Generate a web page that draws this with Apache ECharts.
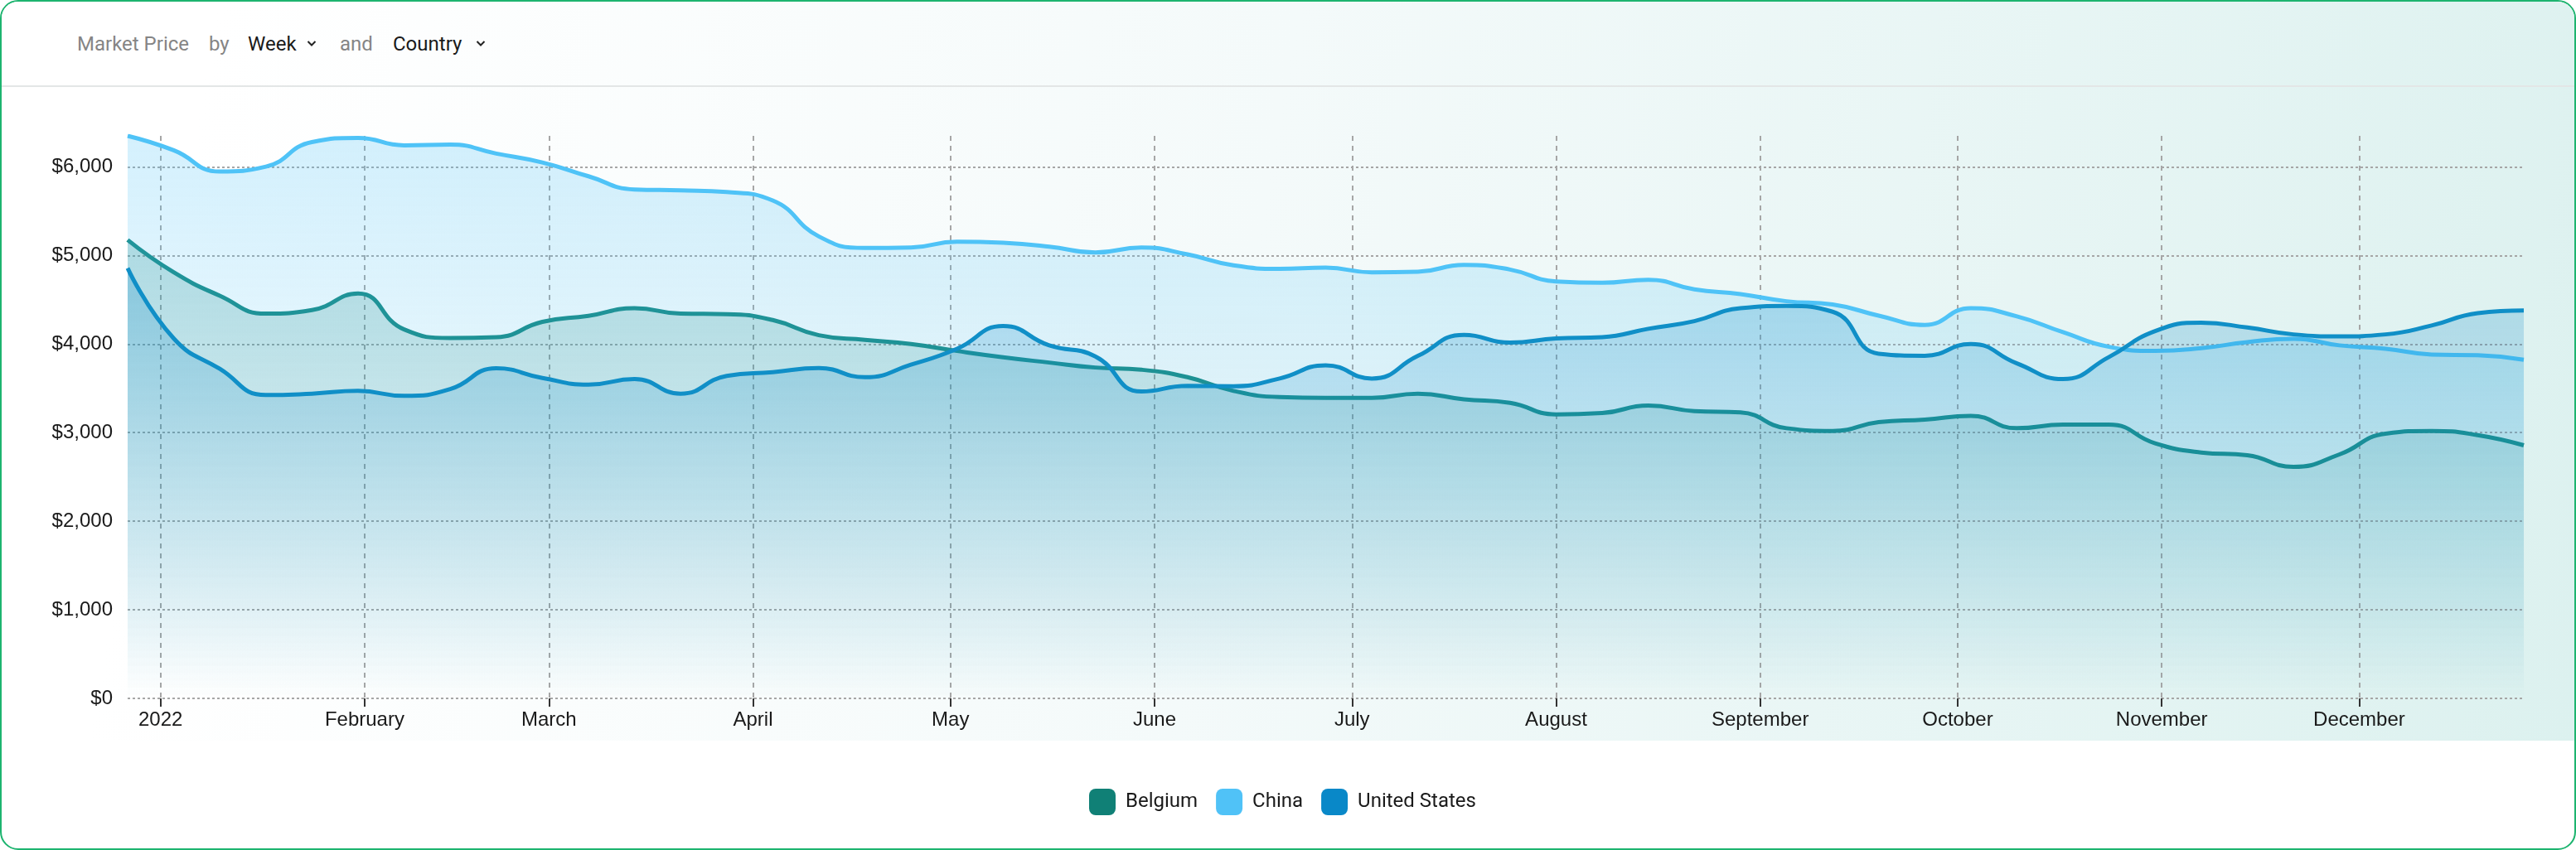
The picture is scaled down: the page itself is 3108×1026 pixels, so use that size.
<!DOCTYPE html>
<html>
<head>
<meta charset="utf-8">
<script src="https://cdn.jsdelivr.net/npm/echarts@6/dist/echarts.min.js"></script>
<style>
html,body{margin:0;padding:0;background:#fff;width:3108px;height:1026px;overflow:hidden;}
#card{position:absolute;left:0;top:0;width:3108px;height:1026px;box-sizing:border-box;border:2px solid #1db46f;border-radius:22px;overflow:hidden;background:#fff;}
#bg{position:absolute;left:0;top:0;width:100%;height:892px;background:linear-gradient(100deg,#ffffff 8%,#f4fafa 48%,#dcf1ef 100%);}
#sep{position:absolute;left:0;top:101px;width:100%;height:2px;background:#e3e6e6;}
.h{position:absolute;top:39px;font-family:Roboto,"Noto Sans",sans-serif;font-size:24px;line-height:28px;white-space:nowrap;}
.g{color:#858585;}
.k{color:#1a1a1a;}
.chev{position:absolute;top:48px;}
#chart{position:absolute;left:0;top:0;width:3108px;height:1026px;}
</style>
</head>
<body>
<div id="card">
  <div id="bg"></div>
  <div id="sep"></div>
</div>
<span class="h g" style="left:93px">Market Price</span>
<span class="h g" style="left:252px">by</span>
<span class="h k" style="left:299px">Week</span>
<svg class="chev" style="left:370px" width="12" height="9"><polyline points="1.5,2 6,6.5 10.5,2" fill="none" stroke="#222" stroke-width="2"/></svg>
<span class="h g" style="left:410px">and</span>
<span class="h k" style="left:474px">Country</span>
<svg class="chev" style="left:574px" width="12" height="9"><polyline points="1.5,2 6,6.5 10.5,2" fill="none" stroke="#222" stroke-width="2"/></svg>
<div id="chart"></div>
<script>
// Week start dates (categories)
var weeks = ['2021-12-27','2022-01-03','2022-01-10','2022-01-17','2022-01-24','2022-01-31',
  '2022-02-07','2022-02-14','2022-02-21','2022-02-28','2022-03-07','2022-03-14','2022-03-21','2022-03-28',
  '2022-04-04','2022-04-11','2022-04-18','2022-04-25','2022-05-02','2022-05-09','2022-05-16','2022-05-23','2022-05-30',
  '2022-06-06','2022-06-13','2022-06-20','2022-06-27','2022-07-04','2022-07-11','2022-07-18','2022-07-25',
  '2022-08-01','2022-08-08','2022-08-15','2022-08-22','2022-08-29','2022-09-05','2022-09-12','2022-09-19','2022-09-26',
  '2022-10-03','2022-10-10','2022-10-17','2022-10-24','2022-10-31','2022-11-07','2022-11-14','2022-11-21','2022-11-28',
  '2022-12-05','2022-12-12','2022-12-19','2022-12-26'];

var seriesNames = ['Belgium','China','United States'];

var belgium = [5175,4810,4545,4343,4383,4570,4165,4069,4078,4250,4318,4405,4343,4338,4271,4100,4047,4000,3922,3851,
  3791,3735,3710,3626,3471,3402,3393,3393,3440,3377,3337,3206,3221,3306,3243,3228,3050,3019,3118,3147,
  3190,3050,3091,3091,2879,2776,2745,2614,2754,2988,3019,2972,2857];

var china = [6350,6187,5947,6003,6280,6327,6243,6252,6150,6050,5894,5745,5735,5716,5620,5215,5084,5090,5156,5143,
  5100,5034,5090,5012,4888,4850,4863,4810,4816,4894,4841,4707,4692,4726,4617,4564,4483,4446,4321,4216,
  4405,4312,4134,3969,3922,3953,4022,4059,3985,3947,3882,3873,3823];

var unitedStates = [4857,4063,3720,3424,3440,3471,3415,3492,3726,3617,3542,3605,3440,3640,3683,3729,3626,3767,3947,4203,
  3985,3860,3464,3527,3524,3611,3760,3611,3866,4103,4016,4063,4078,4172,4259,4405,4430,4365,3891,3868,
  4000,3782,3605,3854,4147,4240,4187,4109,4087,4109,4209,4349,4380];

var yTicks = [0,1000,2000,3000,4000,5000,6000];

var iconColors = ['#108076','#50c2f7','#0988c8'];
var lineColors = ['#158984','#4fc3f7','#108fc7'];

function pairs(vals){ return weeks.map(function(w,i){ return [w, vals[i]]; }); }

function areaGrad(rgb){
  return new echarts.graphic.LinearGradient(0,0,0,1,[
    {offset:0,color:'rgba('+rgb+',0.35)'},
    {offset:1,color:'rgba('+rgb+',0)'}
  ]);
}
var areaRgb = ['16,128,118','79,195,247','9,136,200'];
var allVals = [belgium, china, unitedStates];

var chart = echarts.init(document.getElementById('chart'), null, {renderer:'canvas'});
var axisFont = '"Liberation Sans", Arial, sans-serif';

chart.setOption({
  backgroundColor: 'transparent',
  animation: false,
  grid: {left:154, right:63, top:164, bottom:183, containLabel:false, outerBoundsMode:'none'},
  legend: {
    data: seriesNames,
    left: 1309, top: 947,
    icon: 'roundRect',
    itemWidth: 32, itemHeight: 32, itemGap: 22,
    textStyle: {fontFamily:'Roboto, "Noto Sans", sans-serif', fontSize:24, color:'#1a1a1a', padding:[0,0,0,7]}
  },
  xAxis: {
    type: 'time',
    min: weeks[0], max: weeks[weeks.length-1],
    splitNumber: 12,
    axisLine: {show:false},
    axisTick: {show:true, length:10, lineStyle:{color:'#333', width:2}},
    axisLabel: {
      fontFamily: axisFont, fontSize:24, color:'#1a1a1a', margin:14,
      showMinLabel:false, showMaxLabel:false,
      formatter: {year:'{yyyy}', month:'{MMMM}', day:'', hour:'', minute:'', second:'', millisecond:''}
    },
    splitLine: {show:true, showMinLine:false, showMaxLine:false, lineStyle:{type:[6,6], color:'#a6a6a6', width:2}}
  },
  yAxis: {
    type: 'value',
    min: yTicks[0], max: 6350, interval: 1000,
    axisLine: {show:false},
    axisTick: {show:false},
    axisLabel: {
      fontFamily: axisFont, fontSize:24, color:'#1a1a1a', margin:18,
      showMaxLabel:false,
      formatter: function(v){ return yTicks.indexOf(v) >= 0 ? '$' + v.toLocaleString('en-US') : ''; }
    },
    splitLine: {show:true, showMaxLine:false, lineStyle:{type:[3,3], color:'#a6a6a6', width:2}}
  },
  series: seriesNames.map(function(name, k){
    return {
      name: name,
      type: 'line',
      data: pairs(allVals[k]),
      smooth: true,
      showSymbol: false,
      symbol: 'none',
      itemStyle: {color: iconColors[k]},
      lineStyle: {color: lineColors[k], width: 5},
      areaStyle: {color: areaGrad(areaRgb[k]), origin: 'start'},
      z: 2 + k
    };
  })
});
</script>
</body>
</html>
